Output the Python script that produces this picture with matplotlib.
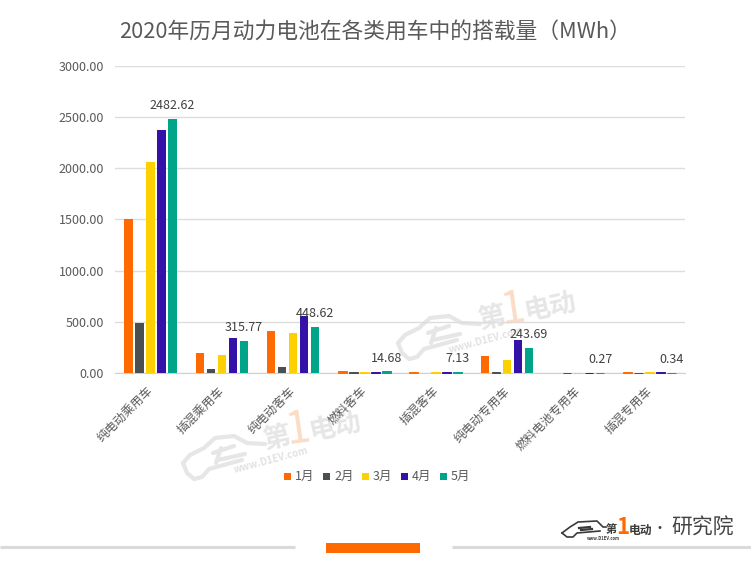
import matplotlib
matplotlib.use('Agg')
import matplotlib.pyplot as plt
from matplotlib.transforms import ScaledTranslation
import numpy as np

plt.rcParams['font.family'] = ['Noto Sans CJK SC', 'DejaVu Sans']

# ===== 数据 =====
categories = ['纯电动乘用车', '插混乘用车', '纯电动客车', '燃料客车', '插混客车',
              '纯电动专用车', '燃料电池专用车', '插混专用车']
months = ['1月', '2月', '3月', '4月', '5月']
jan = [1500, 195, 410, 18, 8, 165, 0, 8]
feb = [490, 38, 60, 5, 0, 8, 1, 4]
mar = [2060, 175, 390, 6, 8, 125, 0.3, 5]
apr = [2370, 340, 560, 8, 9, 320, 0.3, 5]
may = [2482.62, 315.77, 448.62, 14.68, 7.13, 243.69, 0.27, 0.34]
yticks = [0, 500, 1000, 1500, 2000, 2500, 3000]
colors = ['#FF6A00', '#4A4F52', '#FFD000', '#3412A8', '#00A488']

W, H = 751, 576
fig = plt.figure(figsize=(W / 100, H / 100), dpi=100)

# 背景层，用像素坐标放水印和页脚
bg = fig.add_axes([0, 0, 1, 1])
bg.set_xlim(0, W)
bg.set_ylim(H, 0)
bg.axis('off')

# 水印车身线条，相对车尾的偏移
CAR_LINES = [
    ([0, 7, 21, 32, 51, 64, 82], [0, -8, -15, -25, -27, -20, -19]),
    ([0, 4, 11, 19, 26, 59], [0, 10, 16, 14, 6, -3]),
    ([30, 51], [-10, -17]),
    ([35, 62], [-3, -9]),
    ([38, 33], [-15, 0]),
]


def watermark(x, y):
    c = '#E6E6E6'
    for dx, dy in CAR_LINES:
        bg.plot(x + np.array(dx), y + np.array(dy), color=c, lw=3, solid_capstyle='round',
                solid_joinstyle='round')
    bg.text(x + 94, y - 25, '第', fontsize=20, color='#E6E6E6', rotation=12,
            ha='center', va='center', weight='bold')
    bg.text(x + 115, y - 34, '1', fontsize=32, color='#FBDCC6', rotation=8,
            ha='center', va='center')
    bg.text(x + 152, y - 36, '电动', fontsize=19, color='#E6E6E6', rotation=12,
            ha='center', va='center', weight='bold')
    bg.text(x + 88, y - 3, 'www.D1EV.com', fontsize=7, color='#E2E2E2', rotation=15,
            ha='center', va='center', style='italic', weight='bold')


watermark(398, 343)
watermark(183, 463)

# 主图
ax = fig.add_axes([115 / W, 1 - 373 / H, 570 / W, 307 / H])
ax.patch.set_alpha(0)
x = np.arange(len(categories))
bw = 0.118
step = 0.154
series = [jan, feb, mar, apr, may]
for i, vals in enumerate(series):
    pos = x + (i - 2) * step
    for p, v in zip(pos, vals):
        if v <= 0:
            continue
        # 很小的值也要留一条细线
        lw = 0.7 if v < 20 else 0
        ax.bar(p, v, width=bw, color=colors[i], edgecolor=colors[i], linewidth=lw,
               zorder=3, clip_on=False)

for px, v in zip(x + 2 * step, may):
    ax.annotate(f'{v:.2f}', (px, v), xytext=(0, 5), textcoords='offset points',
                ha='center', va='bottom', fontsize=9, color='#404040', zorder=4)

ax.set_xlim(-0.5, len(categories) - 0.5)
ax.set_ylim(0, 3000)
ax.set_yticks(yticks)
ax.set_yticklabels([f'{v:.2f}' for v in yticks], fontsize=9, color='#595959')
ax.set_xticks(x)
ax.set_xticklabels(categories, fontsize=8.7, color='#595959', rotation=45, ha='right',
                   rotation_mode='anchor')
ax.tick_params(axis='y', length=0, pad=8)
ax.tick_params(axis='x', length=0, pad=8)
offset = ScaledTranslation(-3 / 72, 0, fig.dpi_scale_trans)
for lab in ax.get_xticklabels():
    lab.set_transform(lab.get_transform() + offset)
ax.grid(axis='y', color='#DDDDDD', lw=1, zorder=0)
ax.set_axisbelow(True)
for s in ['top', 'right', 'left']:
    ax.spines[s].set_visible(False)
ax.spines['bottom'].set_color('#D0D0D0')

# 标题
fig.text(375 / W, 1 - 32 / H, '2020年历月动力电池在各类用车中的搭载量（MWh）', fontsize=15.7,
         color='#595959', ha='center', va='center')

# 图例
leg_x = [284, 323, 362, 401, 440]
for lx, m, c in zip(leg_x, months, colors):
    bg.add_patch(plt.Rectangle((lx, 472.5), 7, 7.5, color=c, lw=0))
    bg.text(lx + 11, 476, m, fontsize=9, color='#595959', va='center', ha='left')

# 页脚
bg.plot([0, 295], [546.5, 546.5], color='#DADADA', lw=2.2, solid_capstyle='butt')
bg.plot([452, 751], [546.5, 546.5], color='#DADADA', lw=2.2, solid_capstyle='butt')
bg.add_patch(plt.Rectangle((326, 543), 94, 10, color='#FF6A00', lw=0))
logo_x = [562, 570, 578, 597, 603, 606]
logo_y = [533, 527, 522, 521, 527, 527]
bg.plot(logo_x, logo_y, color='#3A3A3A', lw=1.2)
bg.plot([562, 567, 573, 577, 600], [533, 537, 537, 533, 531], color='#3A3A3A', lw=1.2)
bg.plot([579, 590], [528, 527], color='#3A3A3A', lw=1.6)
bg.plot([581, 592], [530, 529], color='#3A3A3A', lw=1.6)
bg.text(611, 530, '第', fontsize=8, color='#3A3A3A', ha='center', va='center', weight='bold')
bg.text(623, 527, '1', fontsize=16, color='#FF6A00', ha='center', va='center', weight='bold',
        style='italic')
bg.text(640, 530, '电动', fontsize=8.5, color='#3A3A3A', ha='center', va='center', weight='bold')
bg.text(603, 538, 'www.D1EV.com', fontsize=3, color='#3A3A3A', ha='center', va='center', weight='bold')
bg.text(660, 529, '•', fontsize=10, color='#3A3A3A', ha='center', va='center')
bg.text(702.5, 528, '研究院', fontsize=15, color='#444444', ha='center', va='center')

fig.savefig('out.png', dpi=100)
